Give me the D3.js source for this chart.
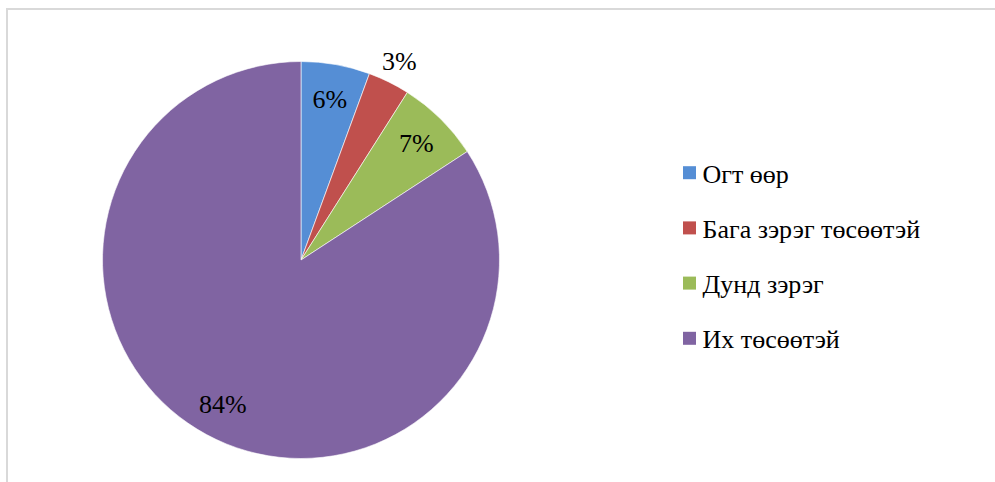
<!DOCTYPE html>
<html>
<head>
<meta charset="utf-8">
<script src="https://cdn.jsdelivr.net/npm/d3@7"></script>
<style>
html,body{margin:0;padding:0;background:#fff;}
svg{display:block;}
</style>
</head>
<body>
<svg id="chart" width="995" height="482"></svg>
<script>
const categories = ["Огт өөр", "Бага зэрэг төсөөтэй", "Дунд зэрэг", "Их төсөөтэй"];
const values = [5.6, 3.4, 6.8, 84.2];
const valueLabels = ["6%", "3%", "7%", "84%"];
const colors = ["#558ed5", "#c0504d", "#9bbb59", "#8064a2"];

const FONT = "Liberation Serif";
const FS = 26;
const svg = d3.select("#chart");
const W = 995, H = 482;

// frame (extends past right and bottom edges)
svg.append("rect")
  .attr("x", 7).attr("y", 9)
  .attr("width", W + 20).attr("height", H + 20)
  .attr("fill", "none").attr("stroke", "#d9d9d9").attr("stroke-width", 2);

const cx = 301, cy = 260, r = 198.5;
const data = categories.map((c, i) => ({cat: c, value: values[i], label: valueLabels[i], color: colors[i]}));
const total = d3.sum(values);

const pie = d3.pie().value(d => d.value).sort(null);
const arcs = pie(data);
const arc = d3.arc().innerRadius(0).outerRadius(r);

const g = svg.append("g").attr("transform", `translate(${cx},${cy})`);
g.selectAll("path.slice").data(arcs).enter().append("path")
  .attr("class", "slice")
  .attr("d", arc)
  .attr("fill", d => d.data.color)
  .attr("stroke", "#ffffff").attr("stroke-width", 0.6);

const inArc = d3.arc().innerRadius(164).outerRadius(164);
const outArc = d3.arc().innerRadius(222).outerRadius(222);
g.selectAll("text.lbl").data(arcs).enter().append("text")
  .attr("class", "lbl")
  .attr("transform", d => {
    const p = (d.data.value / total < 0.05 ? outArc : inArc).centroid(d);
    return `translate(${p[0]},${p[1]})`;
  })
  .attr("text-anchor", "middle")
  .attr("dy", "0.35em")
  .attr("font-family", FONT)
  .attr("font-size", FS)
  .attr("fill", "#000")
  .text(d => d.data.label);

// legend
const legend = svg.append("g").attr("transform", "translate(683,172.7)");
const rowH = 55.2;
const items = legend.selectAll("g").data(data).enter().append("g")
  .attr("transform", (d, i) => `translate(0,${i * rowH})`);
items.append("rect")
  .attr("x", 0).attr("y", -6.5).attr("width", 13).attr("height", 13)
  .attr("fill", d => d.color);
items.append("text")
  .attr("x", 19.5).attr("y", 9.8)
  .attr("font-family", FONT)
  .attr("font-size", FS)
  .attr("fill", "#000")
  .text(d => d.cat);
</script>
</body>
</html>
